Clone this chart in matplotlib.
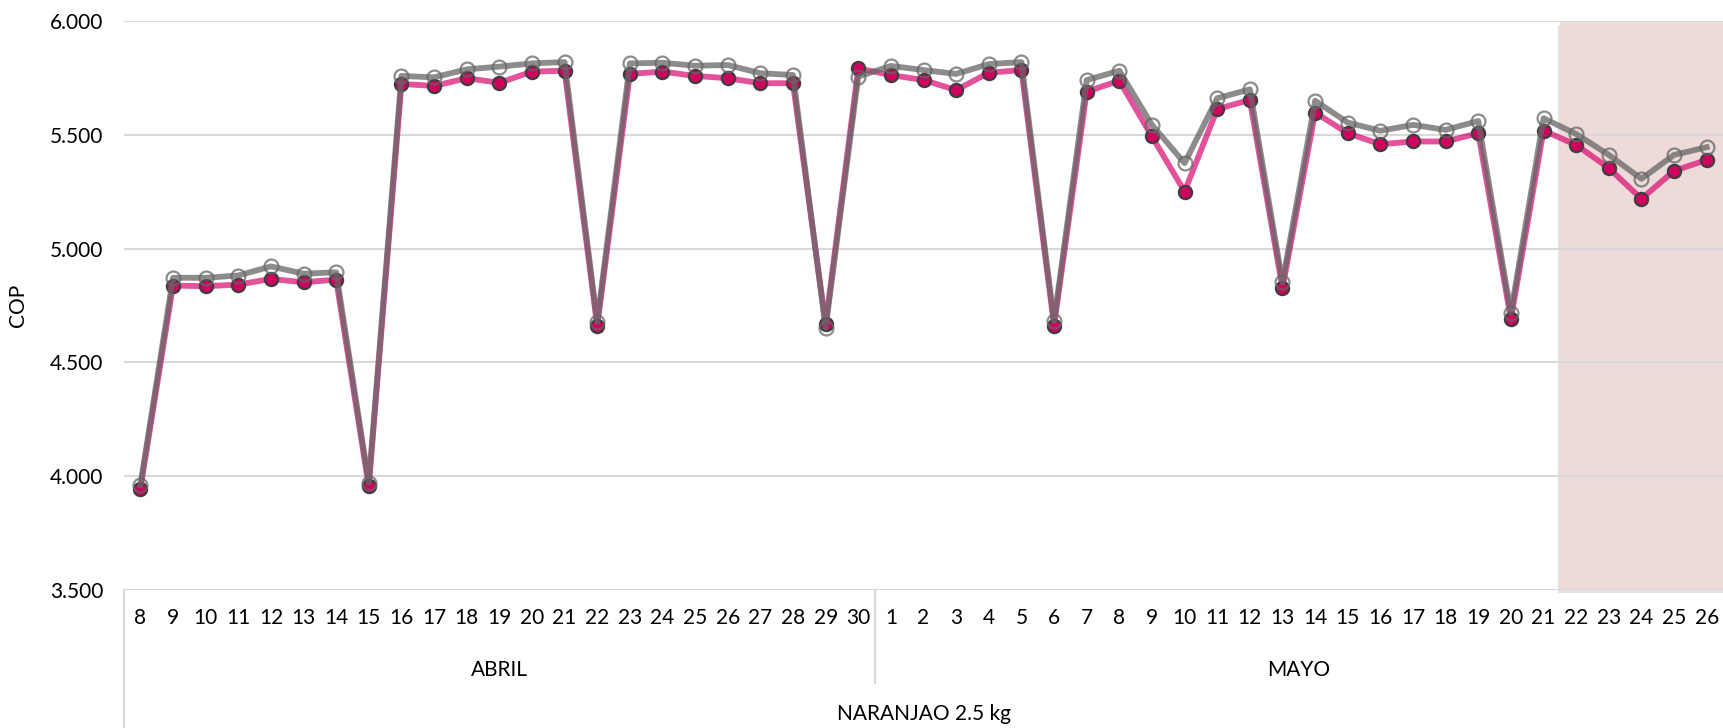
import matplotlib
matplotlib.use('Agg')
import matplotlib.pyplot as plt
import matplotlib.patheffects as pe
from matplotlib.ticker import FormatStrFormatter

plt.rcParams['font.family'] = ['Lato', 'DejaVu Sans']

# Datos
dias_abril = ['8', '9', '10', '11', '12', '13', '14', '15', '16', '17', '18', '19', '20',
              '21', '22', '23', '24', '25', '26', '27', '28', '29', '30']
dias_mayo = ['1', '2', '3', '4', '5', '6', '7', '8', '9', '10', '11', '12', '13', '14',
             '15', '16', '17', '18', '19', '20', '21', '22', '23', '24', '25', '26']
meses = ['ABRIL', 'MAYO']
producto = 'NARANJAO 2.5 kg'

cop_rosa = [3.945, 4.838, 4.835, 4.842, 4.867, 4.852, 4.864, 3.955, 5.724, 5.715, 5.749, 5.729,
            5.778, 5.782, 4.659, 5.768, 5.778, 5.759, 5.749, 5.727, 5.727, 4.667, 5.792,
            5.763, 5.741, 5.697, 5.773, 5.785, 4.662, 5.690, 5.738, 5.493, 5.251, 5.613, 5.654,
            4.827, 5.598, 5.507, 5.459, 5.471, 5.471, 5.507, 4.691, 5.519, 5.456, 5.354, 5.219,
            5.342, 5.390]
cop_gris = [3.960, 4.872, 4.872, 4.882, 4.922, 4.890, 4.896, 3.972, 5.759, 5.753, 5.788, 5.800,
            5.814, 5.820, 4.678, 5.814, 5.817, 5.804, 5.807, 5.771, 5.763, 4.652, 5.756,
            5.803, 5.785, 5.768, 5.811, 5.820, 4.681, 5.741, 5.782, 5.544, 5.376, 5.661, 5.700,
            4.852, 5.650, 5.554, 5.518, 5.544, 5.522, 5.561, 4.718, 5.573, 5.504, 5.412, 5.307,
            5.412, 5.446]

# dia desde el cual se sombrea (mayo 22)
inicio_sombra = '22'

etiquetas = dias_abril + dias_mayo
x = list(range(len(etiquetas)))
n_abril = len(dias_abril)

fig = plt.figure(figsize=(17.23, 7.28), dpi=100)
ax = fig.add_axes([0.072, 0.1896, 0.928, 0.7814])

# zona sombreada con sombra suave
x0 = n_abril + dias_mayo.index(inicio_sombra) - 0.5
span = ax.axvspan(x0, len(etiquetas) - 0.5 + 1, color='#EFDADA', zorder=0.2, lw=0, clip_on=False)
span.set_path_effects([pe.SimplePatchShadow(offset=(-1.5, -2.5), shadow_rgbFace='#A0A0A0', alpha=0.3),
                       pe.Normal()])

ax.plot(x, cop_rosa, color='#D6006A', alpha=0.68, lw=4.2, zorder=3, solid_joinstyle='round')
ax.plot(x, cop_rosa, ls='none', marker='o', ms=9.5, mfc='#D0005F', mec='#3F3F3F', mew=1.6, zorder=4)
ax.plot(x, cop_gris, color='#666666', alpha=0.75, lw=4.2, zorder=5, solid_joinstyle='round',
        marker='o', ms=10, mfc='none', mec='#666666', mew=1.6)

ax.set_ylim(3.5, 6.0)
ax.set_yticks([3.5, 4.0, 4.5, 5.0, 5.5, 6.0])
ax.yaxis.set_major_formatter(FormatStrFormatter('%.3f'))
ax.set_xlim(-0.5, len(etiquetas) - 0.5)
ax.set_xticks(x)
ax.set_xticklabels(etiquetas)
ax.tick_params(axis='both', length=0, labelsize=15, colors='black')
ax.tick_params(axis='x', pad=13)
ax.tick_params(axis='y', pad=15)
ax.set_axisbelow(True)
ax.grid(axis='y', color='#D9D9D9', lw=1.5)
for s in ax.spines.values():
    s.set_visible(False)
ax.set_ylabel('COP', fontsize=15, labelpad=16)

# eje de categorias multinivel
tr = ax.get_xaxis_transform()
ax.plot([-0.5, -0.5], [0, -0.243], transform=tr, color='#D9D9D9', lw=1.5, clip_on=False)
ax.plot([n_abril - 0.5, n_abril - 0.5], [0, -0.163], transform=tr, color='#D9D9D9', lw=1.5, clip_on=False)
ax.text((n_abril - 1) / 2, -0.14, meses[0], transform=tr, ha='center', va='center', fontsize=15)
ax.text(n_abril + (len(dias_mayo) - 1) / 2, -0.14, meses[1], transform=tr, ha='center', va='center', fontsize=15)
ax.text((len(etiquetas) - 1) / 2, -0.218, producto, transform=tr, ha='center', va='center', fontsize=15)

fig.savefig('out.png', dpi=100)
